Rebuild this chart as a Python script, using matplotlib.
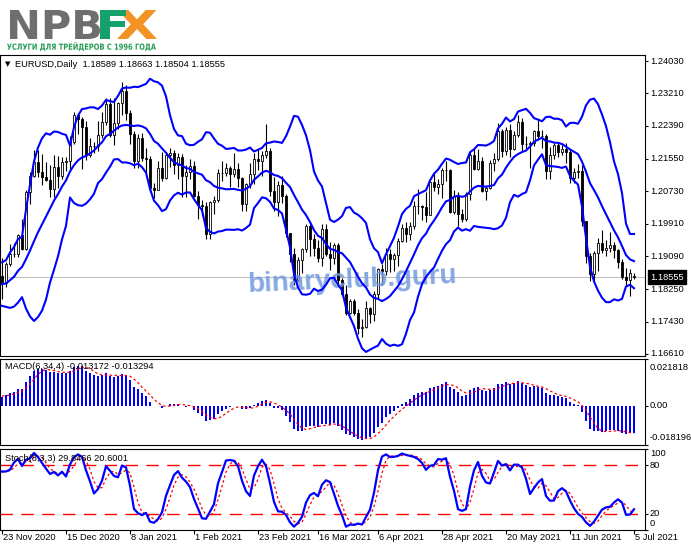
import numpy as np
import pandas as pd
import matplotlib
matplotlib.use('Agg')
import matplotlib.pyplot as plt
import matplotlib.transforms as mtransforms
from matplotlib.textpath import TextPath
from matplotlib.patches import PathPatch
from matplotlib.font_manager import FontProperties

plt.rcParams['font.family'] = ['Liberation Sans', 'DejaVu Sans']

# 60 daily bars before the first visible one (31 Aug - 20 Nov 2020), only used to warm up the indicators
pre_close = [1.1935, 1.1913, 1.1853, 1.1850, 1.1838, 1.1817, 1.1780, 1.1800, 1.1814, 1.1845,
             1.1862, 1.1845, 1.1813, 1.1852, 1.1838, 1.1771, 1.1702, 1.1660, 1.1671, 1.1631,
             1.1667, 1.1745, 1.1721, 1.1747, 1.1716, 1.1781, 1.1736, 1.1761, 1.1757, 1.1827,
             1.1813, 1.1746, 1.1747, 1.1706, 1.1718, 1.1766, 1.1819, 1.1861, 1.1816, 1.1860,
             1.1812, 1.1793, 1.1747, 1.1674, 1.1647, 1.1641, 1.1715, 1.1718, 1.1827, 1.1874,
             1.1814, 1.1812, 1.1779, 1.1810, 1.1834, 1.1853, 1.1860, 1.1852, 1.1870, 1.1857]
pre_high = [1.1965, 1.2011, 1.1922, 1.1867, 1.1868, 1.1846, 1.1833, 1.1826, 1.1917, 1.1871,
            1.1890, 1.1884, 1.1882, 1.1855, 1.1873, 1.1870, 1.1780, 1.1720, 1.1687, 1.1681,
            1.1683, 1.1750, 1.1752, 1.1770, 1.1750, 1.1797, 1.1810, 1.1770, 1.1783, 1.1831,
            1.1833, 1.1818, 1.1772, 1.1759, 1.1739, 1.1786, 1.1827, 1.1880, 1.1862, 1.1861,
            1.1860, 1.1839, 1.1804, 1.1769, 1.1707, 1.1670, 1.1745, 1.1770, 1.1837, 1.1891,
            1.1920, 1.1838, 1.1818, 1.1818, 1.1848, 1.1867, 1.1893, 1.1892, 1.1875, 1.1892]
pre_low = [1.1900, 1.1903, 1.1813, 1.1789, 1.1800, 1.1810, 1.1766, 1.1753, 1.1808, 1.1812,
           1.1835, 1.1822, 1.1789, 1.1737, 1.1821, 1.1728, 1.1696, 1.1650, 1.1627, 1.1612,
           1.1627, 1.1660, 1.1683, 1.1712, 1.1696, 1.1713, 1.1730, 1.1726, 1.1744, 1.1751,
           1.1789, 1.1737, 1.1727, 1.1689, 1.1702, 1.1711, 1.1760, 1.1810, 1.1806, 1.1800,
           1.1802, 1.1777, 1.1718, 1.1650, 1.1622, 1.1603, 1.1640, 1.1602, 1.1710, 1.1812,
           1.1800, 1.1792, 1.1746, 1.1760, 1.1786, 1.1803, 1.1841, 1.1843, 1.1801, 1.1836]

# EURUSD daily, 23 Nov 2020 - 5 Jul 2021 (one row per week)
opens = [1.1858, 1.1842, 1.1890, 1.1915, 1.1915,
         1.1962, 1.1927, 1.2072, 1.2112, 1.2146,
         1.2122, 1.2108, 1.2101, 1.2079, 1.2134,
         1.2111, 1.2146, 1.2149, 1.2198, 1.2266,
         1.2255, 1.2236, 1.2165, 1.2189,
         1.2187, 1.2215, 1.2248, 1.2295,
         1.2216, 1.2247, 1.2297, 1.2326, 1.2271,
         1.2219, 1.2151, 1.2207, 1.2158, 1.2156,
         1.2081, 1.2077, 1.2131, 1.2106, 1.2165,
         1.2171, 1.2140, 1.2160, 1.2113, 1.2123,
         1.2136, 1.2060, 1.2039, 1.2036, 1.1964,
         1.2046, 1.2050, 1.2119, 1.2119, 1.2132,
         1.2118, 1.2130, 1.2107, 1.2040, 1.2091,
         1.2118, 1.2155, 1.2150, 1.2164, 1.2176,
         1.2075, 1.2047, 1.2089, 1.2062, 1.1967,
         1.1914, 1.1849, 1.1900, 1.1927, 1.1986,
         1.1952, 1.1929, 1.1903, 1.1978, 1.1914,
         1.1905, 1.1938, 1.1849, 1.1813, 1.1764,
         1.1794, 1.1766, 1.1727, 1.1730, 1.1777,
         1.1762, 1.1812, 1.1875, 1.1870, 1.1914,
         1.1901, 1.1912, 1.1947, 1.1979, 1.1966,
         1.1984, 1.2036, 1.2035, 1.2033, 1.2013,
         1.2097, 1.2083, 1.2092, 1.2126, 1.2127,
         1.2021, 1.2062, 1.2015, 1.2004, 1.2066,
         1.2164, 1.2130, 1.2149, 1.2073, 1.2081,
         1.2145, 1.2156, 1.2225, 1.2175, 1.2227,
         1.2180, 1.2216, 1.2249, 1.2193, 1.2193,
         1.2195, 1.2226, 1.2212, 1.2212, 1.2125,
         1.2165, 1.2190, 1.2173, 1.2180, 1.2172,
         1.2106, 1.2121, 1.2124, 1.1997, 1.1908,
         1.1863, 1.1916, 1.1941, 1.1925, 1.1929,
         1.1936, 1.1924, 1.1894, 1.1857, 1.1849,
         1.18589]
highs = [1.1905, 1.1893, 1.1940, 1.1941, 1.1965,
         1.2004, 1.2077, 1.2122, 1.2177, 1.2178,
         1.2167, 1.2147, 1.2140, 1.2165, 1.2162,
         1.2160, 1.2160, 1.2212, 1.2273, 1.2272,
         1.2260, 1.2250, 1.2207, 1.2198,
         1.2250, 1.2275, 1.2310, 1.2310,
         1.2309, 1.2300, 1.2349, 1.2343, 1.2280,
         1.2226, 1.2218, 1.2220, 1.2182, 1.2163,
         1.2093, 1.2150, 1.2172, 1.2173, 1.2183,
         1.2177, 1.2171, 1.2168, 1.2140, 1.2155,
         1.2150, 1.2075, 1.2052, 1.2045, 1.2049,
         1.2060, 1.2130, 1.2150, 1.2144, 1.2136,
         1.2169, 1.2145, 1.2110, 1.2093, 1.2145,
         1.2170, 1.2180, 1.2174, 1.2243, 1.2183,
         1.2110, 1.2100, 1.2113, 1.2067, 1.1968,
         1.1930, 1.1906, 1.1930, 1.1990, 1.1990,
         1.1964, 1.1950, 1.1989, 1.1990, 1.1945,
         1.1943, 1.1943, 1.1854, 1.1835, 1.1800,
         1.1800, 1.1775, 1.1749, 1.1795, 1.1780,
         1.1820, 1.1880, 1.1888, 1.1930, 1.1928,
         1.1918, 1.1955, 1.1990, 1.1995, 1.1995,
         1.2049, 1.2080, 1.2039, 1.2070, 1.2099,
         1.2117, 1.2105, 1.2132, 1.2150, 1.2130,
         1.2076, 1.2070, 1.2029, 1.2072, 1.2172,
         1.2182, 1.2180, 1.2160, 1.2086, 1.2152,
         1.2169, 1.2245, 1.2232, 1.2236, 1.2244,
         1.2226, 1.2266, 1.2258, 1.2212, 1.2200,
         1.2228, 1.2254, 1.2227, 1.2217, 1.2185,
         1.2196, 1.2196, 1.2190, 1.2195, 1.2180,
         1.2132, 1.2143, 1.2140, 1.1998, 1.1916,
         1.1922, 1.1955, 1.1975, 1.1950, 1.1970,
         1.1944, 1.1927, 1.1902, 1.1879, 1.1875,
         1.18663]
lows = [1.1801, 1.1830, 1.1884, 1.1906, 1.1907,
        1.1924, 1.1925, 1.2041, 1.2108, 1.2110,
        1.2090, 1.2100, 1.2058, 1.2058, 1.2082,
        1.2105, 1.2125, 1.2128, 1.2194, 1.2219,
        1.2130, 1.2153, 1.2160, 1.2170,
        1.2176, 1.2207, 1.2242, 1.2210,
        1.2190, 1.2230, 1.2265, 1.2254, 1.2192,
        1.2132, 1.2132, 1.2150, 1.2116, 1.2072,
        1.2055, 1.2077, 1.2100, 1.2105, 1.2134,
        1.2118, 1.2105, 1.2059, 1.2059, 1.2105,
        1.2058, 1.2004, 1.2010, 1.1952, 1.1952,
        1.2016, 1.2045, 1.2098, 1.2113, 1.2085,
        1.2108, 1.2083, 1.2023, 1.2023, 1.2082,
        1.2091, 1.2126, 1.2113, 1.2158, 1.2062,
        1.2024, 1.2010, 1.2043, 1.1958, 1.1893,
        1.1836, 1.1845, 1.1865, 1.1920, 1.1910,
        1.1910, 1.1895, 1.1885, 1.1910, 1.1874,
        1.1890, 1.1835, 1.1808, 1.1760, 1.1763,
        1.1760, 1.1712, 1.1704, 1.1727, 1.1740,
        1.1744, 1.1799, 1.1836, 1.1860, 1.1868,
        1.1870, 1.1885, 1.1945, 1.1945, 1.1950,
        1.1978, 1.2016, 1.2000, 1.1995, 1.2012,
        1.2075, 1.2065, 1.2057, 1.2100, 1.2017,
        1.2016, 1.1986, 1.1995, 1.1999, 1.2052,
        1.2127, 1.2126, 1.2070, 1.2052, 1.2078,
        1.2125, 1.2150, 1.2161, 1.2166, 1.2160,
        1.2177, 1.2210, 1.2175, 1.2177, 1.2133,
        1.2188, 1.2204, 1.2182, 1.2103, 1.2105,
        1.2156, 1.2160, 1.2165, 1.2144, 1.2093,
        1.2095, 1.2106, 1.1985, 1.1892, 1.1847,
        1.1845, 1.1870, 1.1916, 1.1910, 1.1920,
        1.1903, 1.1878, 1.1852, 1.1835, 1.1807,
        1.18504]
closes = [1.1842, 1.1890, 1.1915, 1.1915, 1.1962,
          1.1927, 1.2072, 1.2112, 1.2146, 1.2122,
          1.2108, 1.2101, 1.2079, 1.2134, 1.2111,
          1.2146, 1.2149, 1.2198, 1.2266, 1.2255,
          1.2236, 1.2165, 1.2189, 1.2187,
          1.2215, 1.2248, 1.2295, 1.2216,
          1.2247, 1.2297, 1.2326, 1.2271, 1.2219,
          1.2151, 1.2207, 1.2158, 1.2156, 1.2081,
          1.2077, 1.2131, 1.2106, 1.2165, 1.2171,
          1.2140, 1.2160, 1.2113, 1.2123, 1.2136,
          1.2060, 1.2039, 1.2036, 1.1964, 1.2046,
          1.2050, 1.2119, 1.2119, 1.2132, 1.2118,
          1.2130, 1.2107, 1.2040, 1.2091, 1.2118,
          1.2155, 1.2150, 1.2164, 1.2176, 1.2075,
          1.2047, 1.2089, 1.2062, 1.1967, 1.1914,
          1.1849, 1.1900, 1.1927, 1.1986, 1.1952,
          1.1929, 1.1903, 1.1978, 1.1914, 1.1905,
          1.1938, 1.1849, 1.1813, 1.1764, 1.1794,
          1.1766, 1.1727, 1.1730, 1.1777, 1.1762,
          1.1812, 1.1875, 1.1870, 1.1914, 1.1901,
          1.1912, 1.1947, 1.1979, 1.1966, 1.1984,
          1.2036, 1.2035, 1.2033, 1.2013, 1.2097,
          1.2083, 1.2092, 1.2126, 1.2127, 1.2021,
          1.2062, 1.2015, 1.2004, 1.2066, 1.2164,
          1.2130, 1.2149, 1.2073, 1.2081, 1.2145,
          1.2156, 1.2225, 1.2175, 1.2227, 1.2180,
          1.2216, 1.2249, 1.2193, 1.2193, 1.2195,
          1.2226, 1.2212, 1.2212, 1.2125, 1.2165,
          1.2190, 1.2173, 1.2180, 1.2172, 1.2106,
          1.2121, 1.2124, 1.1997, 1.1908, 1.1863,
          1.1916, 1.1941, 1.1925, 1.1929, 1.1936,
          1.1924, 1.1894, 1.1857, 1.1849, 1.1865,
          1.18555]

holidays = ['2020-12-25', '2021-01-01']
label_dates = ['2020-11-23', '2020-12-15', '2021-01-08', '2021-02-01', '2021-02-23', '2021-03-16',
               '2021-04-06', '2021-04-28', '2021-05-20', '2021-06-11', '2021-07-05']
price_ticks = [1.24030, 1.23210, 1.22390, 1.21550, 1.20730, 1.19910, 1.19090, 1.18250, 1.17430, 1.16610]
macd_top, macd_bottom = 0.021818, -0.018196
header = 'EURUSD,Daily  1.18589 1.18663 1.18504 1.18555'
macd_title = 'MACD(6,34,4) -0.013172 -0.013294'
stoch_title = 'Stoch(8,3,3) 29.8466 20.6001'

dates = pd.bdate_range('2020-11-23', '2021-07-05')
dates = dates[~dates.isin(pd.to_datetime(holidays))]
x = np.arange(len(dates))

# indicators, computed the way the terminal does
c = pd.Series(pre_close + closes)
h = pd.Series(pre_high + highs)
l = pd.Series(pre_low + lows)
n0 = len(pre_close)
mid = c.rolling(12).mean()
sd = c.rolling(12).std(ddof=0)
bb_up = (mid + 2 * sd).values[n0:]
bb_mid = mid.values[n0:]
bb_dn = (mid - 2 * sd).values[n0:]
macd = c.ewm(span=6, adjust=False).mean() - c.ewm(span=34, adjust=False).mean()
signal = macd.rolling(4).mean()
macd, signal = macd.values[n0:], signal.values[n0:]
ll = l.rolling(8).min()
hh = h.rolling(8).max()
k = 100 * (c - ll).rolling(3).sum() / (hh - ll).rolling(3).sum()
d = k.rolling(3).mean()
k, d = k.values[n0:], d.values[n0:]

W, H = 691, 549
fig = plt.figure(figsize=(W / 100, H / 100), dpi=100)


def box(x0, y0, x1, y1):
    return [x0 / W, 1 - y1 / H, (x1 - x0) / W, (y1 - y0) / H]


def logo_text(s, x0, y0, w, h, color):
    tp = TextPath((0, 0), s, size=100, prop=FontProperties(family='DejaVu Sans', weight='bold'))
    e = tp.get_extents()
    tr = mtransforms.Affine2D().translate(-e.x0, -e.y0).scale(w / e.width, h / e.height).translate(x0, H - y0 - h)
    fig.add_artist(PathPatch(tp, transform=tr, facecolor=color, edgecolor='none'))


logo_text('NPB', 10, 10, 90, 29, '#6e6e6e')
logo_text('X', 117, 10, 40, 29, '#f39325')
logo_text('F', 100, 10, 26, 29, '#15a06c')
logo_text('УСЛУГИ ДЛЯ ТРЕЙДЕРОВ С 1996 ГОДА', 7, 42, 149, 9, '#239b52')

ax1 = fig.add_axes(box(0, 55, 645, 356))
ax2 = fig.add_axes(box(0, 359, 645, 445))
ax3 = fig.add_axes(box(0, 449, 645, 530))

fs = 6.7
for ax in (ax1, ax2, ax3):
    ax.set_xlim(-0.5, 160.75)
    for s in ax.spines.values():
        s.set_linewidth(0.8)
        s.set_color('black')
    ax.tick_params(axis='y', left=False, right=True, labelleft=False, labelright=False,
                   direction='out', length=2.5, width=0.8)
    ax.tick_params(axis='x', bottom=False, labelbottom=False)


def side_label(ax, val, txt, dy=0, **kw):
    ax.annotate(txt, xy=(1, val), xycoords=('axes fraction', 'data'), xytext=(5, dy),
                textcoords='offset pixels', va='center', ha='left', fontsize=fs,
                annotation_clip=False, **kw)


# main pane: candles + Bollinger bands
ax1.set_ylim(1.16559, 1.24182)
ax1.set_yticks(price_ticks)
for p in price_ticks:
    side_label(ax1, p, '%.5f' % p)
ax1.axhline(closes[-1], color='#c0c0c0', lw=0.8, zorder=1)
o_ = np.array(opens)
c_ = np.array(closes)
bull = c_ >= o_
ax1.vlines(x, lows, highs, color='black', lw=0.8, zorder=2)
ax1.bar(x, np.maximum(np.abs(c_ - o_), 1e-6), bottom=np.minimum(o_, c_), width=0.5,
        color=np.where(bull, 'white', 'black'), edgecolor='black', linewidth=0.6, zorder=3)
for band in (bb_up, bb_mid, bb_dn):
    ax1.plot(x, band, color='#0000ff', lw=1.5, zorder=4)
fig.text(15 / W, 1 - 64 / H, header, fontsize=fs, va='center', ha='left')
fig.text(5 / W, 1 - 64 / H, '▼', fontsize=5, va='center', ha='left', family='DejaVu Sans')
side_label(ax1, closes[-1], '%.5f' % closes[-1], color='white',
           bbox=dict(boxstyle='square,pad=0.25', fc='black', ec='black'))
ax1.text(352 / 645, (356 - 280) / 301, 'binaryclub.guru', transform=ax1.transAxes, fontsize=20,
         fontweight='bold', color='#7199de', alpha=0.85, rotation=2.5, ha='center', va='center', zorder=3.5)

# MACD pane
ax2.set_ylim(macd_bottom, macd_top)
ax2.set_yticks([macd_top, 0, macd_bottom])
ax2.bar(x, macd, width=0.55, color='#0000ff', zorder=2)
ax2.plot(x, signal, color='red', lw=0.9, ls=(0, (2, 2)), zorder=3)
side_label(ax2, macd_top, '%.6f' % macd_top, dy=-8)
side_label(ax2, 0, '0.00')
side_label(ax2, macd_bottom, '%.6f' % macd_bottom, dy=7)
ax2.text(5 / 645, 0.91, macd_title, transform=ax2.transAxes, fontsize=fs, va='center', ha='left', zorder=5)

# Stochastic pane
ax3.set_ylim(0, 100)
ax3.set_yticks([100, 80, 20, 0])
for lv in (80, 20):
    ax3.axhline(lv, color='red', lw=1.0, ls=(0, (9, 6)), zorder=1)
ax3.plot(x, d, color='red', lw=0.9, ls=(0, (2, 2)), zorder=2)
ax3.plot(x, k, color='#0000ff', lw=1.6, zorder=3)
side_label(ax3, 100, '100', dy=-5)
side_label(ax3, 80, '80')
side_label(ax3, 20, '20')
side_label(ax3, 0, '0', dy=7)
ax3.text(5 / 645, 0.88, stoch_title, transform=ax3.transAxes, fontsize=fs, va='center', ha='left', zorder=5)

# date axis
lab_idx = [int(np.where(dates == pd.Timestamp(s))[0][0]) for s in label_dates]
ax3.set_xticks(lab_idx)
ax3.tick_params(axis='x', bottom=True, direction='out', length=3, width=0.8)
for i in lab_idx:
    dt = dates[i]
    ax3.annotate('%d %s' % (dt.day, dt.strftime('%b %Y')), xy=(i, 0), xycoords=('data', 'axes fraction'),
                 xytext=(1, -8), textcoords='offset pixels', ha='left', va='center', fontsize=fs,
                 annotation_clip=False)

fig.savefig('out.png', dpi=100)
